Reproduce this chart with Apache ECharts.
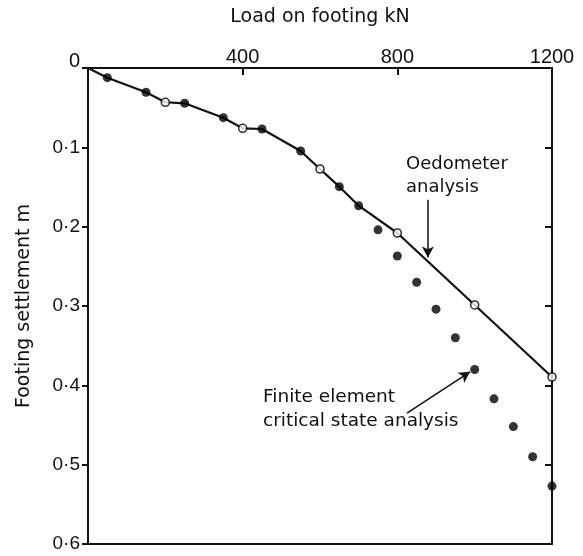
<!DOCTYPE html>
<html><head><meta charset="utf-8">
<script src="https://cdn.jsdelivr.net/npm/echarts@6/dist/echarts.min.js"></script>
<style>html,body{margin:0;padding:0;background:#fff}#c{width:583px;height:556px}</style>
</head><body><div id="c"></div>
<script>
// Data: oedometer analysis curve (path) and its open-circle points
const oedPathLoad = [0, 50, 150, 200, 250, 350, 400, 450, 550, 600, 650, 700, 800, 1000, 1200];
const oedPathSettle = [0, 0.0122, 0.0306, 0.0432, 0.0445, 0.0626, 0.0760, 0.0769, 0.1046, 0.1273, 0.1496, 0.1736, 0.208, 0.2987, 0.3895];
const oedLoad = [200, 400, 600, 800, 1000, 1200];
const oedSettle = [0.0432, 0.0760, 0.1273, 0.208, 0.2987, 0.3895];
// Finite element critical state analysis points
const feLoad = [50, 150, 250, 350, 450, 550, 650, 700, 750, 800, 850, 900, 950, 1000, 1050, 1100, 1150, 1200];
const feSettle = [0.0122, 0.0306, 0.0445, 0.0626, 0.0769, 0.1046, 0.1496, 0.1736, 0.204, 0.237, 0.270, 0.304, 0.340, 0.380, 0.417, 0.452, 0.490, 0.527];
// Tick labels
const xTicks = [0, 400, 800, 1200];
const xTickLabels = ['', '400', '800', '1200'];
const yTicks = [0, 0.1, 0.2, 0.3, 0.4, 0.5, 0.6];
const yTickLabels = ['0', '0·1', '0·2', '0·3', '0·4', '0·5', '0·6'];
// Annotation arrows (data coordinates)
const oedArrow = [[879, 0.166], [879, 0.239]];
const feArrow = [[825, 0.435], [988, 0.383]];

const FONT = 'Liberation Sans';
const TFONT = 'DejaVu Sans';
const chart = echarts.init(document.getElementById('c'), null, {renderer: 'canvas'});
const pathData = oedPathLoad.map((x, i) => [x, oedPathSettle[i]]);
const oedData = oedLoad.map((x, i) => [x, oedSettle[i]]);
const feData = feLoad.map((x, i) => [x, feSettle[i]]);
const axLine = {show: true, onZero: false, lineStyle: {color: '#111', width: 2}};

chart.setOption({
  animation: false,
  backgroundColor: '#fff',
  grid: {left: 88, right: 31, top: 68, bottom: 12, outerBoundsMode: 'none', containLabel: false},
  xAxis: [{
    type: 'value', position: 'top', min: 0, max: 1200, interval: 400,
    name: 'Load on footing kN', nameLocation: 'middle', nameGap: 41,
    nameTextStyle: {fontFamily: TFONT, fontSize: 19, color: '#111'},
    axisLine: axLine,
    axisTick: {show: true, inside: true, length: 7, lineStyle: {color: '#111', width: 2}},
    axisLabel: {fontFamily: FONT, fontSize: 20, color: '#111', margin: 1,
      formatter: (v) => { const i = xTicks.indexOf(v); return i >= 0 ? xTickLabels[i] : ''; }},
    splitLine: {show: false}
  }, {
    type: 'value', position: 'bottom', min: 0, max: 1200, interval: 400,
    axisLine: axLine, axisTick: {show: false}, axisLabel: {show: false}, splitLine: {show: false}
  }],
  yAxis: [{
    type: 'value', inverse: true, min: 0, max: 0.6, interval: 0.1, position: 'left',
    name: 'Footing settlement m', nameLocation: 'middle', nameGap: 54, nameRotate: 90,
    nameTextStyle: {fontFamily: TFONT, fontSize: 19, color: '#111'},
    axisLine: axLine,
    axisTick: {show: true, inside: false, length: 6, lineStyle: {color: '#111', width: 2}},
    axisLabel: {fontFamily: FONT, fontSize: 19, color: '#111', margin: 8,
      formatter: (v) => {
        const i = yTicks.findIndex(t => Math.abs(t - v) < 1e-9);
        if (i === 0) return '{z|' + yTickLabels[0] + '}';
        return i >= 0 ? yTickLabels[i] : '';
      },
      rich: {z: {fontFamily: FONT, fontSize: 20, color: '#111', padding: [0, 0, 14, 0]}}},
    splitLine: {show: false}
  }, {
    type: 'value', inverse: true, min: 0, max: 0.6, interval: 0.1, position: 'right',
    axisLine: axLine,
    axisTick: {show: true, inside: true, length: 7, lineStyle: {color: '#111', width: 2}},
    axisLabel: {show: false}, splitLine: {show: false}
  }],
  series: [{
    name: 'Oedometer path', type: 'line', data: pathData,
    symbol: 'none', lineStyle: {color: '#111', width: 2.2}, z: 2,
    markLine: {
      silent: true, symbol: ['none', 'arrow'], symbolSize: [9, 11],
      lineStyle: {color: '#111', width: 1.5, type: 'solid'}, label: {show: false},
      data: [[{coord: oedArrow[0]}, {coord: oedArrow[1]}], [{coord: feArrow[0]}, {coord: feArrow[1]}]]
    }
  }, {
    name: 'Oedometer analysis', type: 'scatter', data: oedData,
    symbol: 'circle', symbolSize: 8,
    itemStyle: {color: '#fff', borderColor: '#000', borderWidth: 1.6}, z: 3
  }, {
    name: 'Finite element critical state analysis', type: 'scatter', data: feData,
    symbol: 'circle', symbolSize: 9, itemStyle: {color: '#000'}, z: 4
  }],
  graphic: [
    {type: 'text', left: 406, top: 153, style: {text: 'Oedometer\nanalysis', font: '18px "' + TFONT + '"', fill: '#111', lineHeight: 23}},
    {type: 'text', left: 263, top: 385, style: {text: 'Finite element\ncritical state analysis', font: '18.5px "' + TFONT + '"', fill: '#111', lineHeight: 24}}
  ]
});
</script></body></html>
